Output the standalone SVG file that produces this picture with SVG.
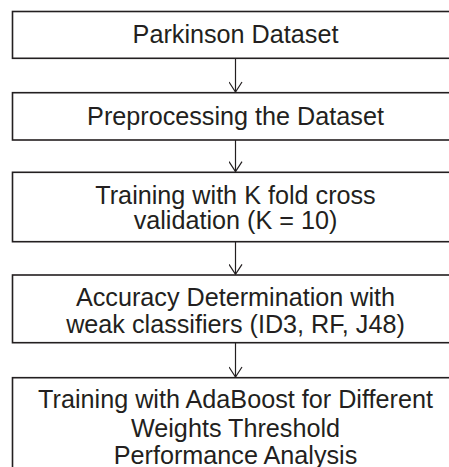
<svg xmlns="http://www.w3.org/2000/svg" width="449" height="467" viewBox="0 0 449 467">
<defs>
<style>
.box{fill:#fff;stroke:#231f20;stroke-width:1.6}
.lbl{font-family:"Liberation Sans",Arial,sans-serif;font-size:25.2px;fill:#231f20;text-anchor:middle}
.con{stroke:#231f20;stroke-width:1.2;fill:none}
</style>
<marker id="ah" markerWidth="12" markerHeight="14" refX="11" refY="7" orient="auto" markerUnits="userSpaceOnUse" viewBox="0 0 12 14">
<path d="M1,0.5 L11,7 L1,13.5" fill="none" stroke="#231f20" stroke-width="1.2"/>
</marker>
</defs>
<rect width="449" height="467" fill="#fff"/>
<g id="n1"><rect class="box" x="12.5" y="11.5" width="446" height="46.8"/><text class="lbl" x="235.5" y="43.3">Parkinson Dataset</text></g>
<g id="n2"><rect class="box" x="12.5" y="92.7" width="446" height="47.3"/><text class="lbl" x="235.5" y="125">Preprocessing the Dataset</text></g>
<g id="n3"><rect class="box" x="12.5" y="172.3" width="446" height="69.4"/><text class="lbl" x="235.5" y="203.5">Training with K fold cross</text><text class="lbl" x="235.5" y="229">validation (K = 10)</text></g>
<g id="n4"><rect class="box" x="12.5" y="275" width="446" height="67.7"/><text class="lbl" x="235.5" y="306">Accuracy Determination with</text><text class="lbl" x="235.5" y="332.5">weak classifiers (ID3, RF, J48)</text></g>
<g id="n5"><rect class="box" x="12.5" y="377.7" width="446" height="100"/><text class="lbl" x="235.5" y="408.3">Training with AdaBoost for Different</text><text class="lbl" x="235.5" y="436.5">Weights Threshold</text><text class="lbl" x="235.5" y="463.5">Performance Analysis</text></g>
<g id="connectors">
<line class="con" x1="235.5" y1="58.3" x2="235.5" y2="92" marker-end="url(#ah)"/>
<line class="con" x1="235.5" y1="140" x2="235.5" y2="171.6" marker-end="url(#ah)"/>
<line class="con" x1="235.5" y1="241.7" x2="235.5" y2="274.3" marker-end="url(#ah)"/>
<line class="con" x1="235.5" y1="342.7" x2="235.5" y2="377" marker-end="url(#ah)"/>
</g>
</svg>
